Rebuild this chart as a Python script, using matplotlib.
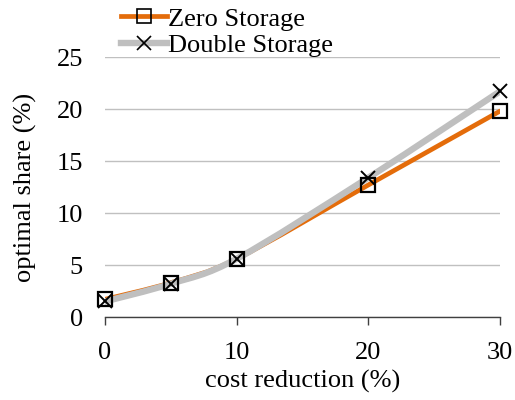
import matplotlib
matplotlib.use("Agg")
import matplotlib.pyplot as plt
from matplotlib.path import Path
from matplotlib.patches import PathPatch
from matplotlib.lines import Line2D

plt.rcParams['font.family'] = ['Liberation Serif', 'DejaVu Serif']

# values
cost_reduction = [0, 5, 10, 20, 30]
zero_storage = [1.7, 3.3, 5.6, 12.7, 19.8]
double_storage = [1.5, 3.2, 5.6, 13.4, 21.7]
y_ticks = [0, 5, 10, 15, 20, 25]
x_ticks = [0, 10, 20, 30]

ORANGE = '#E46C0A'
GREY = '#BFBFBF'
FS = 19


def smooth_path(xs, ys):
    # Excel style smoothed line: cubic bezier through every point
    pts = list(zip(xs, ys))
    verts = [pts[0]]
    codes = [Path.MOVETO]
    n = len(pts)
    for i in range(n - 1):
        p0 = pts[i - 1] if i > 0 else pts[i]
        p1 = pts[i]
        p2 = pts[i + 1]
        p3 = pts[i + 2] if i + 2 < n else pts[i + 1]
        c1 = (p1[0] + (p2[0] - p0[0]) / 6, p1[1] + (p2[1] - p0[1]) / 6)
        c2 = (p2[0] - (p3[0] - p1[0]) / 6, p2[1] - (p3[1] - p1[1]) / 6)
        verts += [c1, c2, p2]
        codes += [Path.CURVE4] * 3
    return Path(verts, codes)


fig = plt.figure(figsize=(5.15, 4), dpi=100)
ax = fig.add_axes([0.204, 0.2075, 0.767, 0.65])

ax.add_patch(PathPatch(smooth_path(cost_reduction, zero_storage), fill=False,
                       edgecolor=ORANGE, linewidth=3.4, capstyle='round', zorder=2))
ax.add_patch(PathPatch(smooth_path(cost_reduction, double_storage), fill=False,
                       edgecolor=GREY, linewidth=4.6, capstyle='round', zorder=3))
ax.plot(cost_reduction, zero_storage, linestyle='none', marker='s', markersize=10.5,
        markerfacecolor='none', markeredgecolor='black', markeredgewidth=1.6,
        clip_on=False, zorder=4)
ax.plot(cost_reduction, double_storage, linestyle='none', marker='x', markersize=10.5,
        markeredgecolor='black', markeredgewidth=1.4, clip_on=False, zorder=5)

ax.set_xlim(0, 30)
ax.set_ylim(0, 25)
ax.set_xticks(x_ticks)
ax.set_yticks(y_ticks)
ax.grid(axis='y', color='#C0C0C0', linewidth=1.0)
ax.set_axisbelow(True)
for side in ['top', 'right', 'left']:
    ax.spines[side].set_visible(False)
ax.spines['bottom'].set_color('#404040')
ax.spines['bottom'].set_linewidth(1.0)
ax.tick_params(axis='x', direction='out', length=6, width=1.0, color='#404040',
               labelsize=FS, pad=12)
ax.tick_params(axis='y', length=0, labelsize=FS, pad=16)

ax.set_xlabel('cost reduction (%)', fontsize=FS, labelpad=4)
ax.set_ylabel('optimal share (%)', fontsize=FS, labelpad=14)

handles = [
    Line2D([], [], color=ORANGE, linewidth=3.4, marker='s', markersize=10.5,
           markerfacecolor='none', markeredgecolor='black', markeredgewidth=1.2),
    Line2D([], [], color=GREY, linewidth=4.6, marker='x', markersize=10.5,
           markeredgecolor='black', markeredgewidth=1.2),
]
fig.legend(handles, ['Zero Storage', 'Double Storage'], loc='upper left',
           bbox_to_anchor=(121 / 515, 0.982), frameon=False, fontsize=FS,
           handlelength=1.75, handletextpad=0.05, labelspacing=0.12,
           borderpad=0.0, borderaxespad=0.0)

fig.savefig('out.png', dpi=100)
